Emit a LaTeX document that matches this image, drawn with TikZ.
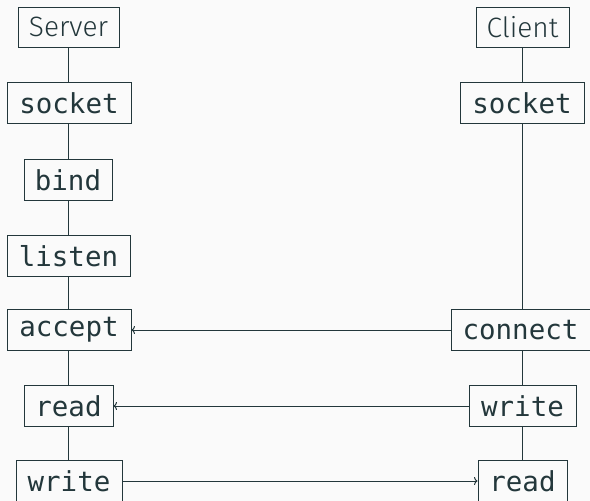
\documentclass[tikz,border=0pt]{standalone}
\usepackage{fontspec}
\setmainfont{Fira Sans}[UprightFont=* Light]
\setmonofont{DejaVu Sans Mono}
\usetikzlibrary{arrows.meta}
\definecolor{fg}{HTML}{23373B}
\definecolor{bg}{HTML}{FAFAFA}
\begin{document}
\begin{tikzpicture}[x=1pt,y=-1pt,
  box/.style={draw=fg, line width=1pt, text=fg, inner sep=0pt, minimum height=41pt, font=\fontsize{27.5}{30}\selectfont\ttfamily},
  title/.style={draw=fg, line width=1pt, text=fg, inner sep=0pt, minimum height=40pt, font=\fontsize{28}{30}\selectfont},
  conn/.style={draw=fg, line width=1pt},
  msg/.style={conn, -{To[length=3.5pt,width=8pt]}}]
\fill[bg] (0,0) rectangle (590,501);
\useasboundingbox (0,0) rectangle (590,501);
% server column
\node[title, minimum width=101pt] (srv) at (68.5,27) {Server};
\node[box, minimum width=124pt] (s1) at (69,103) {socket};
\node[box, minimum width=88pt] (s2) at (68,180) {bind};
\node[box, minimum width=123pt] (s3) at (68.5,256) {listen};
\node[box, minimum width=124pt] (s4) at (69,330) {accept};
\node[box, minimum width=89pt] (s5) at (68.5,406) {read};
\node[box, minimum width=106pt] (s6) at (69,481) {write};
% client column
\node[title, minimum width=93pt] (cli) at (522.5,27.5) {Client};
\node[box, minimum width=124pt] (c1) at (522,103) {socket};
\node[box, minimum width=139pt] (c2) at (520.5,330) {connect};
\node[box, minimum width=107pt] (c3) at (522.5,406) {write};
\node[box, minimum width=89pt] (c4) at (522.5,481) {read};
% lifelines
\draw[conn] (srv.south) -- (srv.south |- s1.north);
\draw[conn] (srv.south |- s1.south) -- (srv.south |- s2.north);
\draw[conn] (srv.south |- s2.south) -- (srv.south |- s3.north);
\draw[conn] (srv.south |- s3.south) -- (srv.south |- s4.north);
\draw[conn] (srv.south |- s4.south) -- (srv.south |- s5.north);
\draw[conn] (srv.south |- s5.south) -- (srv.south |- s6.north);
\draw[conn] (cli.south) -- (cli.south |- c1.north);
\draw[conn] (cli.south |- c1.south) -- (cli.south |- c2.north);
\draw[conn] (cli.south |- c2.south) -- (cli.south |- c3.north);
\draw[conn] (cli.south |- c3.south) -- (cli.south |- c4.north);
% messages
\draw[msg] (c2.west) -- (s4.east);
\draw[msg] (c3.west) -- (s5.east);
\draw[msg] (s6.east) -- (c4.west);
\end{tikzpicture}
\end{document}
